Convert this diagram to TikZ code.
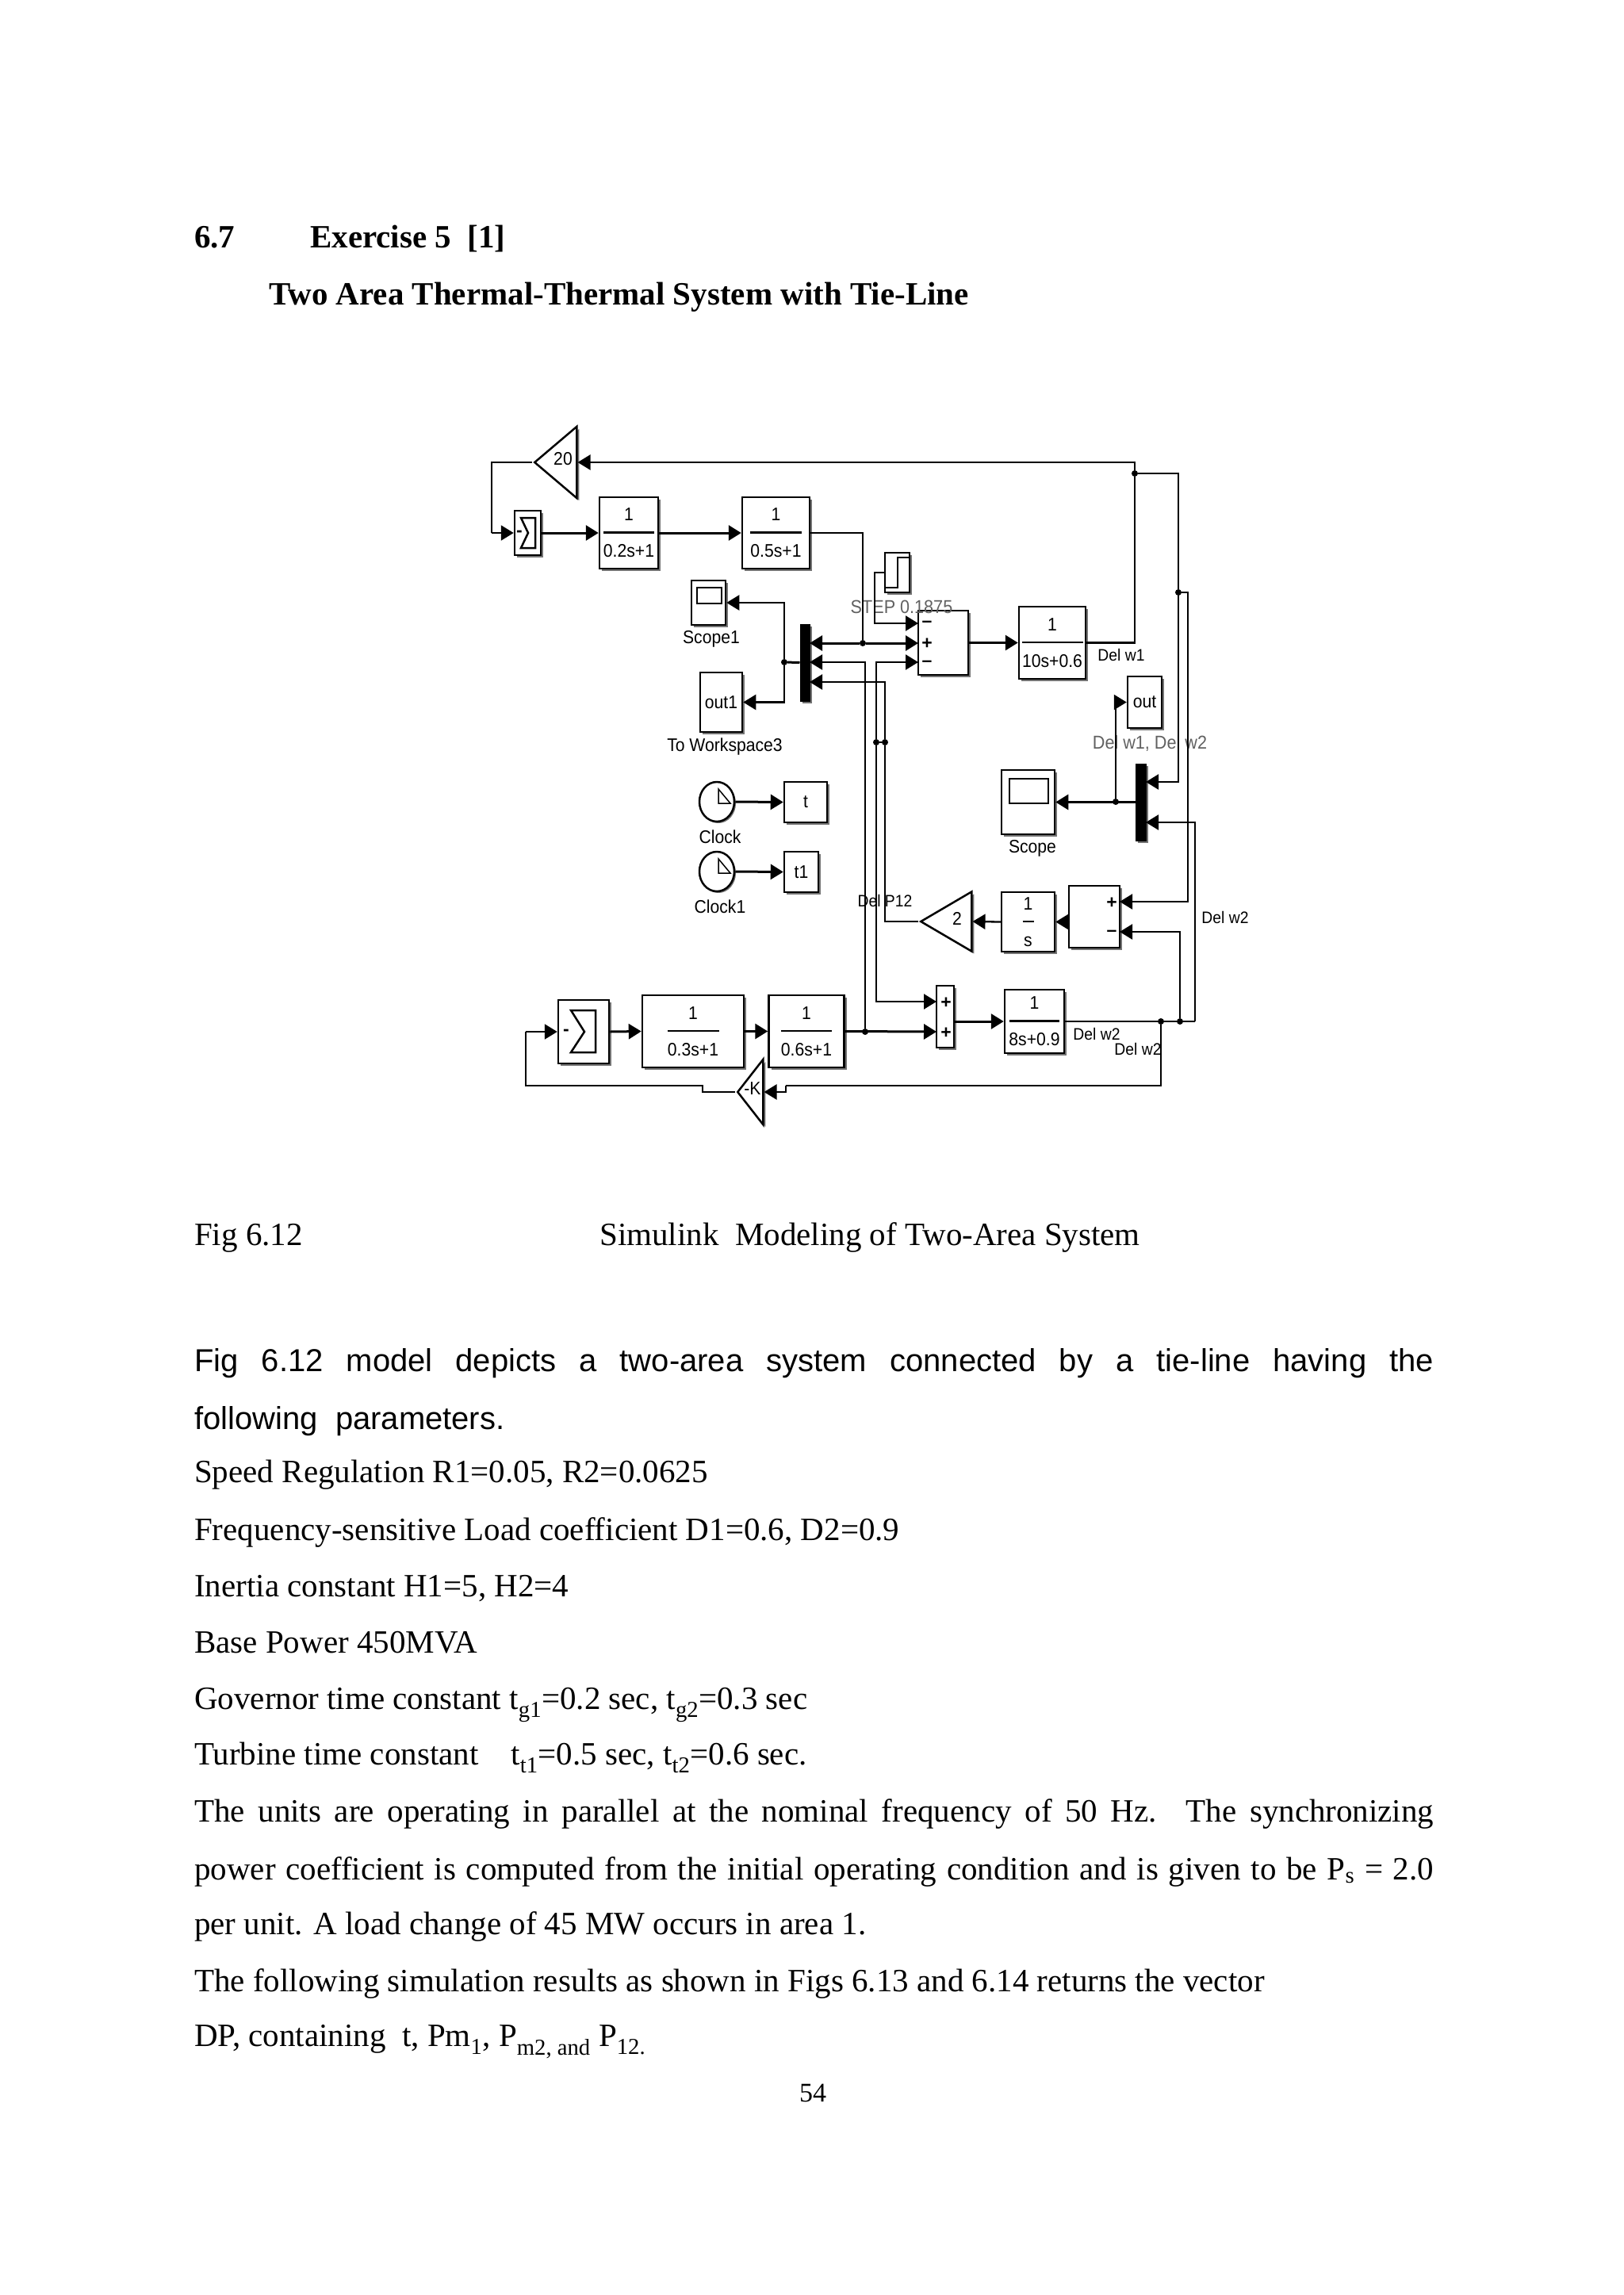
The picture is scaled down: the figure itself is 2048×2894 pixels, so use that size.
\documentclass[tikz,border=0pt]{standalone}
\usepackage{fontspec}
\setmainfont{Liberation Serif}
\setsansfont{Liberation Sans}
\newfontfamily\blockfont[FakeStretch=0.92]{Liberation Sans}
\usepackage{tikz}
\usetikzlibrary{shapes.geometric, arrows.meta, shadows}

\newcommand{\stretchline}[1]{\hbox to 1563pt{\spaceskip=.2em plus 1fil\relax #1}}

\begin{document}
\begin{tikzpicture}[x=1pt, y=-1pt, >={Triangle[length=16pt,width=19pt]},
    every node/.style={font=\fontsize{23}{23}\selectfont\blockfont, inner sep=0pt},
    para/.style={anchor=base west, font=\fontsize{41}{41}\selectfont\rmfamily},
    head/.style={anchor=base west, font=\fontsize{41}{41}\selectfont\rmfamily\bfseries},
    arialpara/.style={anchor=base west, font=\fontsize{40}{40}\selectfont\sffamily},
    block/.style={draw, rectangle, fill=white, line width=2.5pt, align=center, drop shadow={shadow xshift=3pt, shadow yshift=-3pt, fill=black, opacity=0.55}},
    screen/.style={draw, rectangle, line width=2.5pt},
    gain/.style={draw, fill=white, isosceles triangle, isosceles triangle stretches, shape border rotate=180, anchor=apex, line width=2.5pt, drop shadow={shadow xshift=3pt, shadow yshift=-3pt, fill=black, opacity=0.55}},
    clock/.style={draw, ellipse, fill=white, minimum width=44pt, minimum height=50pt, line width=2.5pt, drop shadow={shadow xshift=2pt, shadow yshift=-2pt, fill=black, opacity=0.55}},
    mux/.style={draw, rectangle, fill=black, line width=1pt, drop shadow={shadow xshift=3pt, shadow yshift=-3pt, fill=black, opacity=0.55}},
    dot/.style={circle, fill=black, minimum size=8pt},
    sign/.style={font=\fontsize{23}{23}\selectfont\sffamily\bfseries},
    greytext/.style={text=black!62, font=\fontsize{23.5}{23}\selectfont\blockfont},
    sigtext/.style={font=\fontsize{21}{21}\selectfont\blockfont},
    wire/.style={line width=2.3pt},
    thickwire/.style={line width=3pt},
    glyph/.style={line width=2.5pt}]
    \useasboundingbox (0,0) rectangle (2048,2894);

    % Page text
    \node (secnum) [head] at (245,312) {6.7};
    \node (sectitle) [head] at (391,312) {Exercise 5~ [1]};
    \node (subtitle) [head] at (339,384) {Two Area Thermal-Thermal System with Tie-Line};
    \node (fignum) [para] at (245,1570) {Fig 6.12};
    \node (figcap) [para] at (756,1570) {Simulink~ Modeling of Two-Area System};
    \node (line1) [arialpara] at (245,1729) {\stretchline{Fig 6.12 model depicts a two-area system connected by a tie-line having the}};
    \node (line2) [arialpara] at (245,1802) {following~ parameters.};
    \node (line3) [para] at (245,1869) {Speed Regulation R1=0.05, R2=0.0625};
    \node (line4) [para] at (245,1942) {Frequency-sensitive Load coefficient D1=0.6, D2=0.9};
    \node (line5) [para] at (245,2013) {Inertia constant H1=5, H2=4};
    \node (line6) [para] at (245,2084) {Base Power 450MVA};
    \node (line7) [para] at (245,2155) {Governor time constant t\textsubscript{g1}=0.2 sec, t\textsubscript{g2}=0.3 sec};
    \node (line8) [para] at (245,2225) {Turbine time constant~~~ t\textsubscript{t1}=0.5 sec, t\textsubscript{t2}=0.6 sec.};
    \node (line9) [para] at (245,2297) {\stretchline{The units are operating in parallel at the nominal frequency of 50 Hz. The synchronizing}};
    \node (line10) [para] at (245,2370) {\stretchline{power coefficient is computed from the initial operating condition and is given to be P\textsubscript{s} = 2.0}};
    \node (line11) [para] at (245,2439) {per unit. A load change of 45 MW occurs in area 1.};
    \node (line12) [para] at (245,2511) {The following simulation results as shown in Figs 6.13 and 6.14 returns the vector};
    \node (line13) [para] at (245,2580) {DP, containing~ t, Pm\textsubscript{1}, P\textsubscript{m2, and} P\textsubscript{12.}};
    \node (pagenum) [anchor=base, font=\fontsize{34}{34}\selectfont\rmfamily] at (1025,2650) {54};

    % Area 1 blocks
    \node (gain20) [gain, minimum height=53pt, minimum width=90pt] at (671,583) {};
    \node (gain20txt) at (710,579) {20};
    \node (sum1) [block, minimum width=33pt, minimum height=56pt] at (665.5,672) {};
    \node (gov1) [block, minimum width=74pt, minimum height=90pt] at (793,672) {1\\\rule[7pt]{64pt}{2.5pt}\\0.2s+1};
    \node (turb1) [block, minimum width=85pt, minimum height=90pt] at (978.5,672) {1\\\rule[7pt]{65pt}{2.5pt}\\0.5s+1};
    \node (scope1) [block, minimum width=43pt, minimum height=56pt] at (893.5,760) {};
    \node (scope1scr) [screen, minimum width=31pt, minimum height=20pt] at (894.5,751) {};
    \node (scope1lbl) at (897,806) {Scope1};
    \node (out1) [block, minimum width=53pt, minimum height=75pt] at (909.5,885.5) {out1};
    \node (out1lbl) at (914,942) {To Workspace3};
    \node (mux1) [mux, minimum width=12pt, minimum height=97pt] at (1015,835.5) {};
    \node (stepin) [block, minimum width=31pt, minimum height=50pt] at (1131.5,722) {};
    \node (sumin) [block, minimum width=63pt, minimum height=81pt] at (1189.5,810.5) {};
    \node (suminsa) [sign] at (1169,787) {--};
    \node (suminsb) [sign] at (1169,812) {+};
    \node (suminsc) [sign] at (1169,837) {--};
    \node (plant1) [block, minimum width=84pt, minimum height=91pt] at (1327,810.5) {1\\\rule[7pt]{77pt}{2.5pt}\\10s+0.6};

    % Output blocks
    \node (outw) [block, minimum width=43pt, minimum height=65pt] at (1443.5,885.5) {out};
    \node (scope2) [block, minimum width=67pt, minimum height=81pt] at (1296.5,1011.5) {};
    \node (scope2scr) [screen, minimum width=49pt, minimum height=31pt] at (1297.5,997.5) {};
    \node (scope2lbl) at (1302,1070) {Scope};
    \node (mux2) [mux, minimum width=13pt, minimum height=97pt] at (1438.5,1011.5) {};

    % Clocks
    \node (clock) [clock] at (904,1011) {};
    \node (clocklbl) at (908,1055) {Clock};
    \node (tblock) [block, minimum width=54pt, minimum height=51pt] at (1016,1011.5) {t};
    \node (clock1) [clock] at (904,1099) {};
    \node (clock1lbl) at (908,1143) {Clock1};
    \node (t1block) [block, minimum width=43pt, minimum height=51pt] at (1010.5,1099.5) {t1};

    % Tie line
    \node (sum2) [block, minimum width=64pt, minimum height=78pt] at (1380,1156) {};
    \node (sum2sa) [sign] at (1402,1139) {+};
    \node (sum2sb) [sign] at (1402,1177) {--};
    \node (integ) [block, minimum width=67pt, minimum height=75pt] at (1296.5,1162.5) {1\\\rule[7pt]{14pt}{2.5pt}\\s};
    \node (gain2) [gain, minimum height=64pt, minimum width=75pt] at (1158,1162) {};
    \node (gain2txt) at (1207,1158) {2};

    % Area 2 blocks
    \node (sum3) [block, minimum width=64pt, minimum height=80pt] at (736,1301) {};
    \node (gov2) [block, minimum width=128pt, minimum height=91pt] at (874,1300.5) {1\\\rule[7pt]{65pt}{2.5pt}\\0.3s+1};
    \node (turb2) [block, minimum width=95pt, minimum height=91pt] at (1017,1300.5) {1\\\rule[7pt]{64pt}{2.5pt}\\0.6s+1};
    \node (add2) [block, minimum width=22pt, minimum height=78pt] at (1192,1282) {};
    \node (add2sa) [sign] at (1193,1265) {+};
    \node (add2sb) [sign] at (1193,1303) {+};
    \node (plant2) [block, minimum width=75pt, minimum height=80pt] at (1304.5,1288) {1\\\rule[7pt]{63pt}{2.5pt}\\8s+0.9};
    \node (gaink) [gain, minimum height=32pt, minimum width=82pt] at (927,1377) {};
    \node (gainktxt) at (949,1373) {-K};

    % Block glyphs
    \draw[glyph] (675,653) -- (657,653) -- (666,672) -- (657,691) -- (675,691) -- cycle;
    \node (sum1sign) [sign] at (655,673) {-};
    \draw[glyph] (751,1274) -- (720,1274) -- (737,1301) -- (720,1327) -- (751,1327) -- cycle;
    \node (sum3sign) [sign] at (714,1302) {-};
    \draw[glyph] (1116,741) -- (1132,741) -- (1132,703) -- (1147,703);
    \draw[line width=1.5pt] (906,995) -- (906,1013) -- (921,1013) -- cycle;
    \draw[line width=1.5pt] (906,1083) -- (906,1101) -- (921,1101) -- cycle;

    % Signal names
    \node (stepname) [greytext] at (1137,765) {STEP 0.1875};
    \node (mergename) [greytext] at (1450,937) {Del w1, Del w2};
    \node (namew1) [sigtext] at (1414,826) {Del w1};
    \node (namep12) [sigtext] at (1116,1136) {Del P12};
    \node (namew2a) [sigtext] at (1545,1157) {Del w2};
    \node (namew2b) [sigtext] at (1383,1304) {Del w2};
    \node (namew2c) [sigtext] at (1435,1323) {Del w2};

    % Junctions
    \node (jm) [dot] at (989,835) {};
    \node (j1) [dot] at (1088,811) {};
    \node (jpa) [dot] at (1105,936) {};
    \node (jpb) [dot] at (1116,936) {};
    \node (jt) [dot] at (1091,1301) {};
    \node (jw1) [dot] at (1431,597) {};
    \node (jw2) [dot] at (1486,747) {};
    \node (js) [dot] at (1407,1011) {};
    \node (jw3) [dot] at (1464,1288) {};
    \node (jw4) [dot] at (1488,1288) {};

    % Ports and corners
    \coordinate (muxa) at (1021,811);
    \coordinate (muxb) at (1021,835);
    \coordinate (muxc) at (1021,860);
    \coordinate (suma) at (1158,786);
    \coordinate (sumb) at (1158,811);
    \coordinate (sumc) at (1158,835);
    \coordinate (addb) at (1181,1301);
    \coordinate (adda) at (1181,1263);
    \coordinate (mux2a) at (1445,986);
    \coordinate (mux2b) at (1445,1037);
    \coordinate (sum2a) at (1412,1137);
    \coordinate (sum2b) at (1412,1175);
    \coordinate (cleft) at (620,672);
    \coordinate (cstep) at (1103,786);
    \coordinate (cw2) at (1498,747);
    \coordinate (cbus) at (1507,1288);
    \coordinate (ckin) at (991,1369);
    \coordinate (ckout) at (886,1369);
    \coordinate (cback) at (663,1301);

    % Links
    \draw[wire] (gain20.apex) -| (cleft);
    \draw[wire,->] (cleft) -- (sum1.west);
    \draw[thickwire,->] (sum1.east) -- (gov1.west);
    \draw[thickwire,->] (gov1.east) -- (turb1.west);
    \draw[wire] (turb1.east) -| (j1);
    \draw[thickwire,->] (j1) -- (muxa);
    \draw[thickwire,->] (j1) -- (sumb);
    \draw[wire,->] (stepin.west) -| (cstep) -- (suma);
    \draw[thickwire] (mux1.west) -- (jm);
    \draw[wire,->] (jm) |- (scope1.east);
    \draw[wire,->] (jm) |- (out1.east);
    \draw[wire,->] (jt) |- (muxb);
    \draw[wire,->] (jpa) |- (sumc);
    \draw[wire] (jpa) -- (jpb);
    \draw[wire,->] (jpa) |- (adda);
    \draw[wire] (gain2.apex) -| (jpb);
    \draw[wire,->] (jpb) |- (muxc);
    \draw[thickwire,->] (sumin.east |- plant1.west) -- (plant1.west);
    \draw[wire] (plant1.east) -| (jw1);
    \draw[wire,->] (jw1) |- (gain20.lower side);
    \draw[wire,->] (jw1) -| (jw2) |- (mux2a);
    \draw[wire,->] (jw2) -- (cw2) |- (sum2a);
    \draw[thickwire,->] (mux2.west) -- (scope2.east);
    \draw[wire,->] (js) |- (outw.west);
    \draw[thickwire,->] (clock.east) -- (tblock.west);
    \draw[thickwire,->] (clock1.east) -- (t1block.west);
    \draw[wire,->] (sum2.west |- integ.east) -- (integ.east);
    \draw[wire,->] (integ.west) -- (gain2.lower side);
    \draw[thickwire,->] (sum3.east) -- (gov2.west);
    \draw[thickwire,->] (gov2.east) -- (turb2.west);
    \draw[thickwire,->] (turb2.east) -- (addb);
    \draw[thickwire,->] (add2.east |- plant2.west) -- (plant2.west);
    \draw[wire] (plant2.east) -- (cbus);
    \draw[wire,->] (cbus) |- (mux2b);
    \draw[wire,->] (jw4) |- (sum2b);
    \draw[wire] (jw3) |- (ckin);
    \draw[wire,->] (ckin) |- (gaink.lower side);
    \draw[wire] (gaink.apex) -| (ckout) -- (ckout -| cback) -- (cback);
    \draw[wire,->] (cback) -- (sum3.west);
\end{tikzpicture}
\end{document}
